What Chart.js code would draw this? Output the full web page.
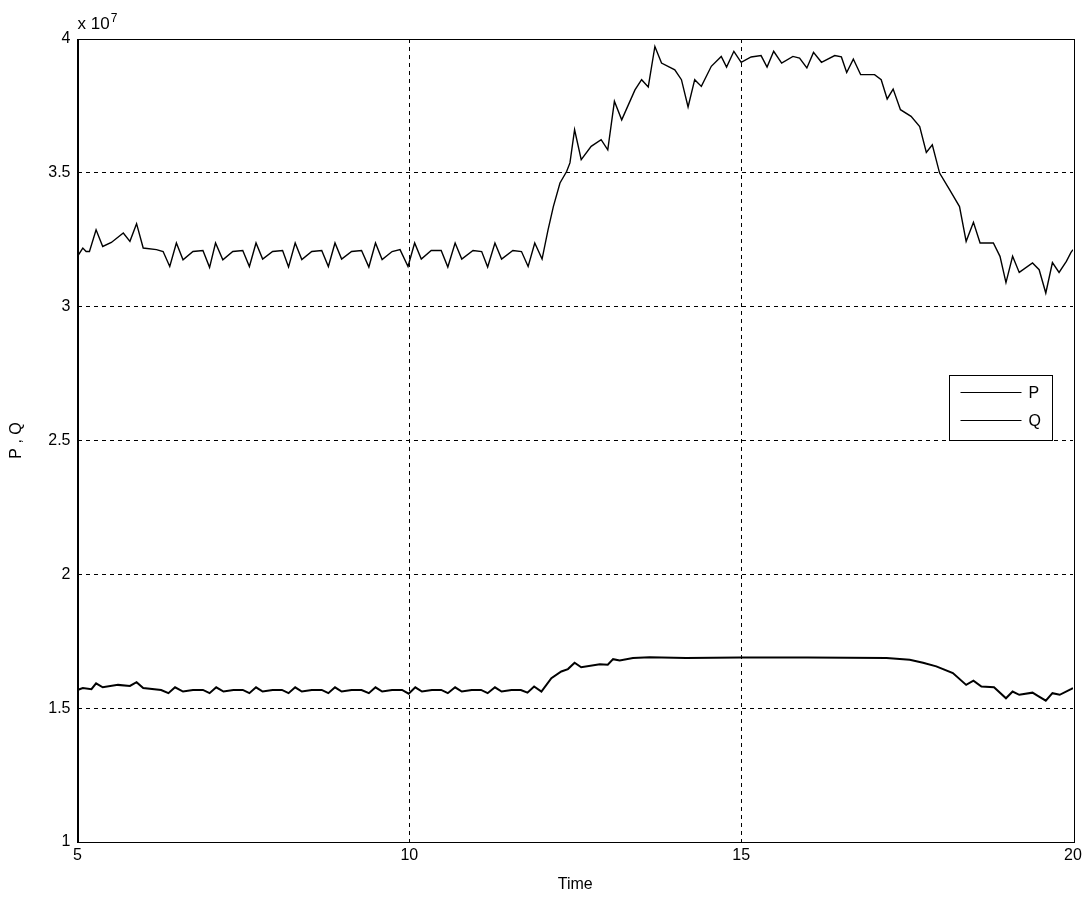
<!DOCTYPE html>
<html>
<head>
<meta charset="utf-8">
<script src="https://cdn.jsdelivr.net/npm/chart.js@4/dist/chart.umd.min.js"></script>
<style>
  html, body { margin: 0; padding: 0; background: #fff; }
  #graphique { display: block; }
</style>
</head>
<body>
<canvas id="graphique" width="1089" height="900"></canvas>
<script>
// values, in units of 10^7
const pTime = [5.00, 5.08, 5.13, 5.18, 5.28, 5.38, 5.51, 5.69, 5.79, 5.89, 5.99, 6.19, 6.29, 6.39, 6.49, 6.59, 6.74, 6.89,
  6.99, 7.08, 7.19, 7.34, 7.49, 7.59, 7.69, 7.79, 7.94, 8.09, 8.18, 8.28, 8.38, 8.53, 8.68, 8.78, 8.88, 8.98, 9.13, 9.28,
  9.39, 9.49, 9.59, 9.74, 9.86, 9.98, 10.08, 10.18, 10.33, 10.48, 10.58, 10.69, 10.79, 10.96, 11.09, 11.18, 11.29, 11.39,
  11.56, 11.69, 11.79, 11.89, 12.00, 12.09, 12.17, 12.27, 12.37, 12.42, 12.49, 12.59, 12.74, 12.89, 12.99, 13.09, 13.20,
  13.30, 13.40, 13.50, 13.60, 13.70, 13.80, 14.00, 14.10, 14.20, 14.30, 14.40, 14.55, 14.70, 14.78, 14.89, 15.00, 15.15,
  15.30, 15.39, 15.49, 15.61, 15.78, 15.88, 15.99, 16.09, 16.21, 16.41, 16.51, 16.59, 16.69, 16.80, 17.01, 17.11, 17.20,
  17.29, 17.40, 17.56, 17.69, 17.79, 17.88, 17.99, 18.14, 18.29, 18.39, 18.50, 18.60, 18.80, 18.90, 18.99, 19.09, 19.19,
  19.39, 19.49, 19.59, 19.69, 19.79, 19.90, 19.97, 20.00];
const pValue = [3.188, 3.219, 3.206, 3.206, 3.287, 3.225, 3.240, 3.275, 3.244, 3.310, 3.219, 3.213, 3.206, 3.150, 3.238, 3.175, 3.206, 3.210,
  3.147, 3.238, 3.175, 3.206, 3.210, 3.150, 3.238, 3.178, 3.206, 3.210, 3.148, 3.238, 3.176, 3.206, 3.210, 3.150, 3.238, 3.178, 3.206, 3.210,
  3.148, 3.238, 3.176, 3.206, 3.213, 3.150, 3.238, 3.178, 3.210, 3.210, 3.148, 3.238, 3.178, 3.210, 3.206, 3.148, 3.238, 3.178,
  3.210, 3.206, 3.150, 3.238, 3.178, 3.287, 3.374, 3.462, 3.505, 3.537, 3.661, 3.549, 3.599, 3.624, 3.586, 3.767, 3.698,
  3.754, 3.810, 3.848, 3.821, 3.972, 3.910, 3.885, 3.848, 3.746, 3.848, 3.823, 3.898, 3.935, 3.895, 3.954, 3.913, 3.933,
  3.938, 3.895, 3.954, 3.910, 3.935, 3.929, 3.892, 3.950, 3.913, 3.938, 3.933, 3.875, 3.925, 3.867, 3.867, 3.848, 3.776,
  3.813, 3.736, 3.711, 3.673, 3.576, 3.605, 3.499, 3.437, 3.374, 3.244, 3.315, 3.238, 3.238, 3.188, 3.090, 3.188, 3.128,
  3.163, 3.138, 3.051, 3.165, 3.128, 3.169, 3.203, 3.213];

const qTime = [5.00, 5.08, 5.21, 5.28, 5.38, 5.61, 5.79, 5.89, 5.99, 6.26, 6.37, 6.47, 6.59, 6.74, 6.89, 6.99, 7.09, 7.20,
  7.35, 7.49, 7.59, 7.69, 7.79, 7.94, 8.08, 8.18, 8.28, 8.38, 8.53, 8.68, 8.78, 8.88, 8.98, 9.13, 9.28, 9.39, 9.49, 9.59,
  9.74, 9.89, 9.99, 10.09, 10.19, 10.34, 10.48, 10.58, 10.69, 10.79, 10.94, 11.08, 11.18, 11.29, 11.39, 11.54, 11.68,
  11.78, 11.88, 11.99, 12.14, 12.29, 12.39, 12.49, 12.59, 12.87, 12.99, 13.07, 13.17, 13.37, 13.62, 14.17, 14.99, 16.00,
  17.19, 17.54, 17.74, 17.94, 18.19, 18.39, 18.50, 18.62, 18.81, 18.99, 19.09, 19.19, 19.39, 19.47, 19.59, 19.69, 19.80,
  19.97, 20.00];
const qValue = [1.568, 1.575, 1.571, 1.593, 1.578, 1.587, 1.583, 1.597, 1.575, 1.568, 1.556, 1.578, 1.562, 1.568, 1.568, 1.556, 1.578, 1.562,
  1.568, 1.568, 1.556, 1.578, 1.562, 1.568, 1.568, 1.556, 1.578, 1.562, 1.568, 1.568, 1.556, 1.578, 1.562, 1.568, 1.568, 1.556, 1.578, 1.562,
  1.568, 1.568, 1.554, 1.578, 1.562, 1.568, 1.568, 1.556, 1.578, 1.562, 1.568, 1.568, 1.556, 1.578, 1.562, 1.568, 1.568,
  1.558, 1.581, 1.562, 1.612, 1.637, 1.646, 1.670, 1.653, 1.664, 1.662, 1.683, 1.678, 1.687, 1.690, 1.687, 1.689, 1.689,
  1.687, 1.681, 1.670, 1.656, 1.631, 1.587, 1.603, 1.581, 1.578, 1.537, 1.562, 1.550, 1.558, 1.546, 1.528, 1.556, 1.550,
  1.571, 1.575];

const seriesNames = ['P', 'Q'];
const xTitle = 'Time';
const yTitle = 'P , Q';
const multiplierBase = 'x 10';
const multiplierExp = '7';

const police = '"Liberation Sans", Arial, sans-serif';

// pas de grille pointillée sur les bords du cadre
const gridColor = ctx => {
  const s = ctx.scale;
  if (ctx.tick && (ctx.tick.value === s.min || ctx.tick.value === s.max)) return 'rgba(0,0,0,0)';
  return '#000';
};

// cadre plein autour de la zone + multiplicateur + légende dans le graphique
const decor = {
  id: 'decor',
  afterDraw(chart) {
    const ctx = chart.ctx;
    const a = chart.chartArea;
    ctx.save();
    ctx.strokeStyle = '#000';
    ctx.lineWidth = 1;
    ctx.setLineDash([]);
    ctx.strokeRect(Math.round(a.left) + 0.5, Math.round(a.top) + 0.5,
      Math.round(a.right - a.left), Math.round(a.bottom - a.top));

    // x 10^7
    ctx.fillStyle = '#000';
    ctx.textBaseline = 'alphabetic';
    ctx.textAlign = 'left';
    ctx.font = '17px ' + police;
    ctx.fillText(multiplierBase, a.left, a.top - 10);
    const w = ctx.measureText(multiplierBase).width;
    ctx.font = '12px ' + police;
    ctx.fillText(multiplierExp, a.left + w + 1, a.top - 17);

    // légende
    const bx = 949.5, by = 375.5, bw = 103, bh = 65;
    ctx.fillStyle = '#fff';
    ctx.fillRect(bx, by, bw, bh);
    ctx.strokeStyle = '#000';
    ctx.lineWidth = 1;
    ctx.strokeRect(bx, by, bw, bh);
    ctx.font = '16px ' + police;
    ctx.textBaseline = 'middle';
    chart.data.datasets.forEach((ds, i) => {
      const y = Math.round(by + 16 + i * 28) + 0.5;
      ctx.strokeStyle = ds.borderColor;
      ctx.lineWidth = 1;
      ctx.beginPath();
      ctx.moveTo(bx + 11, y);
      ctx.lineTo(bx + 72, y);
      ctx.stroke();
      ctx.fillStyle = '#000';
      ctx.fillText(ds.label, bx + 79, y + 1);
    });
    ctx.restore();
  }
};

const graph = document.getElementById('graphique');

new Chart(graph, {
  type: 'line',
  data: {
    datasets: [{
      label: seriesNames[0],
      data: pTime.map((t, i) => ({ x: t, y: pValue[i] })),
      borderColor: '#000',
      borderWidth: 1.4,
      pointRadius: 0,
      tension: 0
    }, {
      label: seriesNames[1],
      data: qTime.map((t, i) => ({ x: t, y: qValue[i] })),
      borderColor: '#000',
      borderWidth: 2,
      pointRadius: 0,
      tension: 0
    }]
  },
  options: {
    responsive: false,
    animation: false,
    layout: { padding: { top: 39, right: 16, left: 0, bottom: 0 } },
    plugins: {
      legend: { display: false },
      tooltip: { enabled: false }
    },
    scales: {
      x: {
        type: 'linear',
        min: 5,
        max: 20,
        afterFit: s => { s.height = 58; },
        ticks: { stepSize: 5, color: '#000', padding: 4, font: { family: police, size: 16 },
          callback: v => String(v) },
        grid: { color: gridColor, lineWidth: 1, drawTicks: false },
        border: { display: true, color: '#000', dash: [4, 4] },
        title: { display: true, text: xTitle, color: '#000', font: { family: police, size: 16 }, padding: { top: 2, bottom: 6 } }
      },
      y: {
        min: 1,
        max: 4,
        afterFit: s => { s.width = 77.5; },
        ticks: { stepSize: 0.5, color: '#000', padding: 7, font: { family: police, size: 16 },
          callback: v => String(v) },
        grid: { color: gridColor, lineWidth: 1, drawTicks: false },
        border: { display: true, color: '#000', dash: [4, 4] },
        title: { display: true, text: yTitle, color: '#000', font: { family: police, size: 16 }, padding: { top: 7, bottom: 4 } }
      }
    }
  },
  plugins: [decor]
});
</script>
</body>
</html>
